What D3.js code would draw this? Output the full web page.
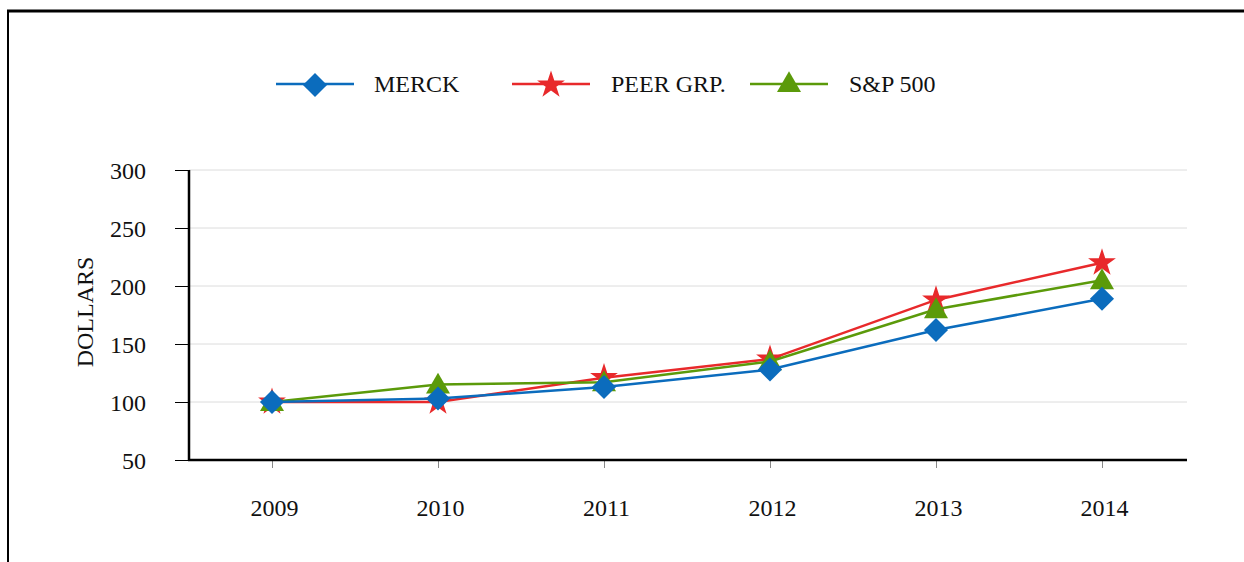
<!DOCTYPE html>
<html><head><meta charset="utf-8">
<script src="https://cdn.jsdelivr.net/npm/d3@7"></script>
<style>body{margin:0;background:#fff}svg{display:block}text{font-family:"Liberation Serif","Times New Roman",serif;fill:#111}</style>
</head><body><svg id="c" width="1244" height="562"></svg>
<script>
const years = ["2009","2010","2011","2012","2013","2014"];
const merck = [100,103,113,128,162,189];
const peer  = [100,100,121,137,188,220];
const sp500 = [100,115,117,135,180,205];
const yTicks = [50,100,150,200,250,300];
const seriesNames = ["MERCK","PEER GRP.","S&P 500"];

const svg = d3.select("#c");
const FF = "Liberation Serif, Times New Roman, serif";
// frame
svg.append("line").attr("x1",7).attr("x2",1244).attr("y1",11).attr("y2",11).attr("stroke","#000").attr("stroke-width",3);
svg.append("line").attr("x1",8).attr("x2",8).attr("y1",10).attr("y2",562).attr("stroke","#000").attr("stroke-width",2);

const x = d3.scalePoint().domain(years).range([272,1102]);
const y = d3.scaleLinear().domain([50,300]).range([460,170]);
const L = 189, R = 1187;

// grid
svg.append("g").selectAll("line").data(yTicks.filter(t=>t>50)).join("line")
  .attr("x1",L).attr("x2",R).attr("y1",d=>y(d)).attr("y2",d=>y(d))
  .attr("stroke","#dcdcdc").attr("stroke-width",1);

// y axis
const ya = svg.append("g").attr("transform",`translate(${L},0)`)
  .call(d3.axisLeft(y).tickValues(yTicks).tickSize(14).tickPadding(29));
ya.attr("font-family",FF).attr("font-size",24);
ya.select(".domain").remove();
ya.selectAll(".tick line").attr("stroke","#000").attr("stroke-width",1);
ya.selectAll(".tick text").attr("fill","#111").attr("dy","0.34em");
svg.append("line").attr("x1",L).attr("x2",L).attr("y1",170).attr("y2",461).attr("stroke","#000").attr("stroke-width",2.5);

// x axis
const xa = svg.append("g").attr("transform",`translate(0,460)`)
  .call(d3.axisBottom(x).tickSize(8).tickPadding(0));
xa.attr("font-family",FF).attr("font-size",24);
xa.select(".domain").remove();
xa.selectAll(".tick line").attr("stroke","#888").attr("stroke-width",1);
xa.selectAll(".tick text").attr("fill","#111").attr("y",56).attr("x",2).attr("dy",null);
svg.append("line").attr("x1",L-1).attr("x2",R).attr("y1",460).attr("y2",460).attr("stroke","#000").attr("stroke-width",2.5);

// y label
svg.append("text").attr("transform","translate(93,312) rotate(-90)").attr("text-anchor","middle")
  .attr("font-family",FF).attr("font-size",24).text("DOLLARS");

const diamond = d3.symbol().type(d3.symbolSquare).size(290);
const star = d3.symbol().type(d3.symbolStar).size(240);
const tri = d3.symbol().type(d3.symbolTriangle).size(250);

const series = [
  {name:seriesNames[1], vals:peer, color:"#e8292b", sym:star, rot:0, dy:0},
  {name:seriesNames[2], vals:sp500, color:"#5b9a0a", sym:tri, rot:0, dy:2},
  {name:seriesNames[0], vals:merck, color:"#0b6cbd", sym:diamond, rot:45, dy:0}
];
const line = d3.line().x((d,i)=>x(years[i])).y(d=>y(d));
series.forEach(s=>{
  svg.append("path").attr("d",line(s.vals)).attr("fill","none").attr("stroke",s.color).attr("stroke-width",2.5);
  svg.append("g").selectAll("path").data(s.vals).join("path")
    .attr("d",s.sym).attr("fill",s.color)
    .attr("transform",(d,i)=>`translate(${x(years[i])},${y(d)+s.dy}) rotate(${s.rot})`);
});

// legend
const leg = [
  {name:seriesNames[0], color:"#0b6cbd", sym:diamond, rot:45, x0:276, tx:374},
  {name:seriesNames[1], color:"#e8292b", sym:star, rot:0, x0:512, tx:611},
  {name:seriesNames[2], color:"#5b9a0a", sym:tri, rot:0, x0:750, tx:849}
];
const ly = 84;
leg.forEach(l=>{
  svg.append("line").attr("x1",l.x0).attr("x2",l.x0+78).attr("y1",ly).attr("y2",ly).attr("stroke",l.color).attr("stroke-width",2.5);
  svg.append("path").attr("d",l.sym).attr("fill",l.color).attr("transform",`translate(${l.x0+39},${ly+1}) rotate(${l.rot})`);
  svg.append("text").attr("x",l.tx).attr("y",ly+8).attr("font-family",FF).attr("font-size",24).text(l.name);
});
</script></body></html>
